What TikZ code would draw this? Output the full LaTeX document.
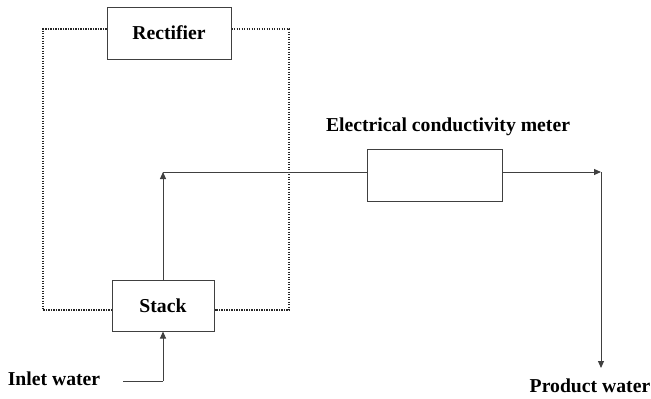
\documentclass[tikz,border=0pt]{standalone}
\usepackage{fontspec}
\setmainfont{Liberation Serif}
\usetikzlibrary{arrows.meta}
\begin{document}
\begin{tikzpicture}[x=1pt,y=-1pt,
  box/.style={draw=black!75,line width=1pt,fill=white,inner sep=0pt},
  lbl/.style={font=\fontsize{19.7}{22}\selectfont\bfseries,inner sep=0pt},
  flow/.style={draw=black!75,line width=1pt},
  arr/.style={flow,-{Triangle[length=7pt,width=6pt]}},
  dotline/.style={draw=black!85,line width=1.9pt,dash pattern=on 1.2pt off 1.3pt}]
\useasboundingbox (0,0) rectangle (651,399);
% dotted loop
\coordinate (tl) at (43,29);
\coordinate (tr) at (289,29);
\coordinate (bl) at (43,310);
\coordinate (br) at (289,310);
\node[box,minimum width=124pt,minimum height=52pt] (rect) at (169,33) {};
\node[box,minimum width=102pt,minimum height=51pt] (stack) at (163,305.5) {};
\draw[dotline] (rect.west |- tl) -- (tl) -- (bl) -- (stack.west |- bl);
\draw[dotline] (rect.east |- tr) -- (tr) -- (br) -- (stack.east |- br);
\node[lbl] (rectl) at (rect.center) {Rectifier};
\node[lbl] (stackl) at (stack.center) {Stack};
% meter
\node[box,minimum width=135pt,minimum height=52pt] (meter) at (434.5,175) {};
\node[lbl] (meterl) at (448,127) {Electrical conductivity meter};
% flows
\coordinate (corner) at (stack.north |- 0,172);
\coordinate (out) at (601,172);
\coordinate (pw) at (601,368);
\coordinate (inl) at (123,381);
\coordinate (inc) at (stack.south |- inl);
\draw[arr] (stack.north) -- (corner);
\draw[flow] (corner) -- (meter.west |- corner);
\draw[arr] (meter.east |- out) -- (out);
\draw[arr] (out) -- (pw);
\draw[flow] (inl) -- (inc);
\draw[arr] (inc) -- (stack.south);
\node[lbl] (inletl) at (54,379) {Inlet water};
\node[lbl] (prodl) at (590,386) {Product water};
\end{tikzpicture}
\end{document}
